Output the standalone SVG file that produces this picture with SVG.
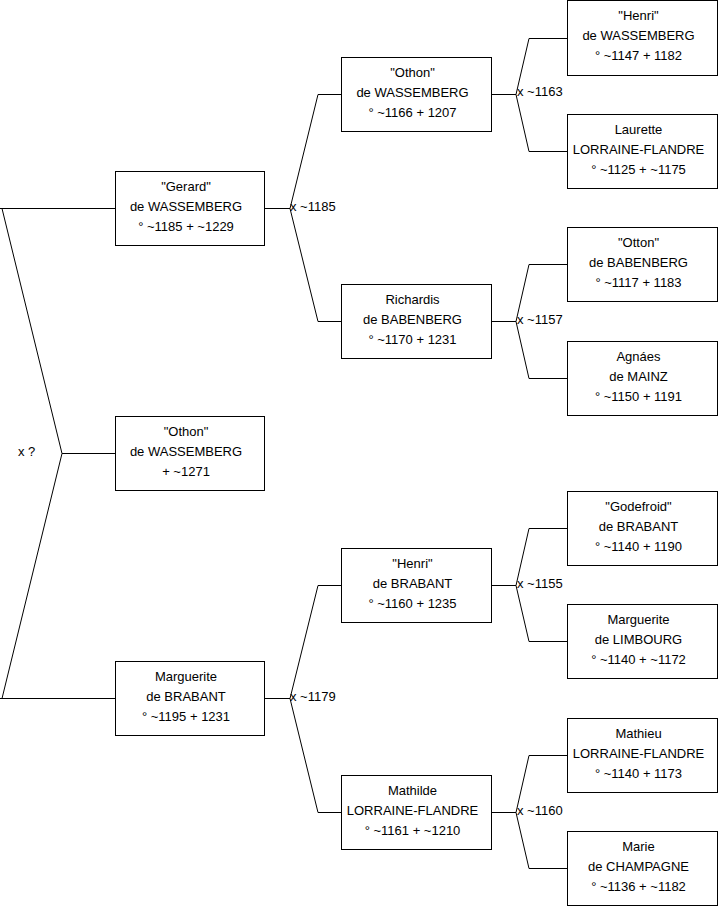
<svg xmlns="http://www.w3.org/2000/svg" width="719" height="908" viewBox="0 0 719 908">
<style>
.box{fill:#fff;stroke:#000;stroke-width:1}
.ln{fill:none;stroke:#000;stroke-width:1}
text{font-family:"Liberation Sans",Arial,sans-serif;font-size:13px;fill:#000}
.c{text-anchor:middle}
</style>
<rect width="719" height="908" fill="#fff"/>
<g id="connectors">
<polyline class="ln" points="115,208.5 0,208.5"/>
<polyline class="ln" points="115,698.5 0,698.5"/>
<polyline class="ln" points="2,208.5 62,453.5 2,698.5"/>
<polyline class="ln" points="62,453.5 115,453.5"/>
<text x="18" y="456">x ?</text>
<polyline class="ln" points="265,208.5 290,208.5"/>
<polyline class="ln" points="341,94.5 318,94.5 290,208.5 318,321.5 341,321.5"/>
<text x="290" y="211">x ~1185</text>
<polyline class="ln" points="265,698.5 290,698.5"/>
<polyline class="ln" points="341,585.5 318,585.5 290,698.5 318,812.5 341,812.5"/>
<text x="290" y="701">x ~1179</text>
<polyline class="ln" points="492,94.5 516,94.5"/>
<polyline class="ln" points="567,38.5 529,38.5 516,94.5 529,151.5 567,151.5"/>
<text x="517" y="96">x ~1163</text>
<polyline class="ln" points="492,321.5 516,321.5"/>
<polyline class="ln" points="567,264.5 529,264.5 516,321.5 529,378.5 567,378.5"/>
<text x="517" y="324">x ~1157</text>
<polyline class="ln" points="492,585.5 516,585.5"/>
<polyline class="ln" points="567,528.5 529,528.5 516,585.5 529,641.5 567,641.5"/>
<text x="517" y="588">x ~1155</text>
<polyline class="ln" points="492,812.5 516,812.5"/>
<polyline class="ln" points="567,755.5 529,755.5 516,812.5 529,868.5 567,868.5"/>
<text x="517" y="815">x ~1160</text>
</g>
<g id="n_gerard"><rect class="box" x="115.5" y="171.5" width="149" height="74"/><text class="c" x="186" y="191">"Gerard"</text><text class="c" x="186" y="211">de WASSEMBERG</text><text class="c" x="186" y="230.5">° ~1185 + ~1229</text></g>
<g id="n_othon_root"><rect class="box" x="115.5" y="416.5" width="149" height="74"/><text class="c" x="186" y="436">"Othon"</text><text class="c" x="186" y="456">de WASSEMBERG</text><text class="c" x="186" y="475.5">+ ~1271</text></g>
<g id="n_marguerite_b"><rect class="box" x="115.5" y="661.5" width="149" height="74"/><text class="c" x="186" y="681">Marguerite</text><text class="c" x="186" y="701">de BRABANT</text><text class="c" x="186" y="720.5">° ~1195 + 1231</text></g>
<g id="n_othon"><rect class="box" x="341.5" y="57.5" width="150" height="74"/><text class="c" x="412.5" y="77">"Othon"</text><text class="c" x="412.5" y="97">de WASSEMBERG</text><text class="c" x="412.5" y="116.5">° ~1166 + 1207</text></g>
<g id="n_richardis"><rect class="box" x="341.5" y="284.5" width="150" height="74"/><text class="c" x="412.5" y="304">Richardis</text><text class="c" x="412.5" y="324">de BABENBERG</text><text class="c" x="412.5" y="343.5">° ~1170 + 1231</text></g>
<g id="n_henri_b"><rect class="box" x="341.5" y="548.5" width="150" height="74"/><text class="c" x="412.5" y="568">"Henri"</text><text class="c" x="412.5" y="588">de BRABANT</text><text class="c" x="412.5" y="607.5">° ~1160 + 1235</text></g>
<g id="n_mathilde"><rect class="box" x="341.5" y="775.5" width="150" height="74"/><text class="c" x="412.5" y="795">Mathilde</text><text class="c" x="412.5" y="815">LORRAINE-FLANDRE</text><text class="c" x="412.5" y="834.5">° ~1161 + ~1210</text></g>
<g id="n_henri_w"><rect class="box" x="567.5" y="0.5" width="150" height="75"/><text class="c" x="638.5" y="20">"Henri"</text><text class="c" x="638.5" y="40">de WASSEMBERG</text><text class="c" x="638.5" y="59.5">° ~1147 + 1182</text></g>
<g id="n_laurette"><rect class="box" x="567.5" y="114.5" width="150" height="74"/><text class="c" x="638.5" y="134">Laurette</text><text class="c" x="638.5" y="154">LORRAINE-FLANDRE</text><text class="c" x="638.5" y="173.5">° ~1125 + ~1175</text></g>
<g id="n_otton"><rect class="box" x="567.5" y="227.5" width="150" height="74"/><text class="c" x="638.5" y="247">"Otton"</text><text class="c" x="638.5" y="267">de BABENBERG</text><text class="c" x="638.5" y="286.5">° ~1117 + 1183</text></g>
<g id="n_agnaes"><rect class="box" x="567.5" y="341.5" width="150" height="74"/><text class="c" x="638.5" y="361">Agnáes</text><text class="c" x="638.5" y="381">de MAINZ</text><text class="c" x="638.5" y="400.5">° ~1150 + 1191</text></g>
<g id="n_godefroid"><rect class="box" x="567.5" y="491.5" width="150" height="74"/><text class="c" x="638.5" y="511">"Godefroid"</text><text class="c" x="638.5" y="531">de BRABANT</text><text class="c" x="638.5" y="550.5">° ~1140 + 1190</text></g>
<g id="n_marguerite_l"><rect class="box" x="567.5" y="604.5" width="150" height="74"/><text class="c" x="638.5" y="624">Marguerite</text><text class="c" x="638.5" y="644">de LIMBOURG</text><text class="c" x="638.5" y="663.5">° ~1140 + ~1172</text></g>
<g id="n_mathieu"><rect class="box" x="567.5" y="718.5" width="150" height="74"/><text class="c" x="638.5" y="738">Mathieu</text><text class="c" x="638.5" y="758">LORRAINE-FLANDRE</text><text class="c" x="638.5" y="777.5">° ~1140 + 1173</text></g>
<g id="n_marie"><rect class="box" x="567.5" y="831.5" width="150" height="74"/><text class="c" x="638.5" y="851">Marie</text><text class="c" x="638.5" y="871">de CHAMPAGNE</text><text class="c" x="638.5" y="890.5">° ~1136 + ~1182</text></g>
</svg>
